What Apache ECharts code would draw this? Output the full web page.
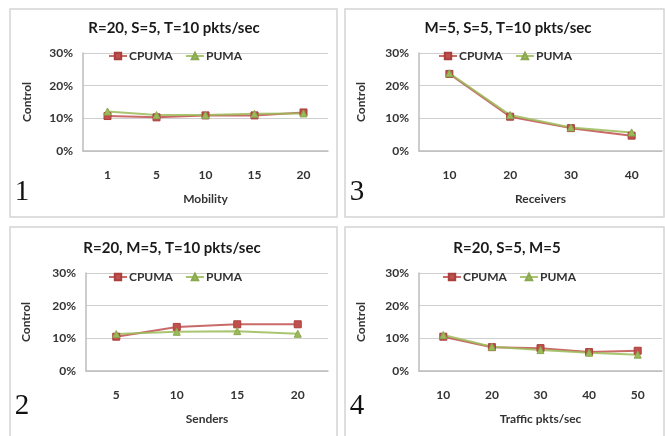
<!DOCTYPE html>
<html>
<head>
<meta charset="utf-8">
<script src="https://cdn.jsdelivr.net/npm/echarts@6/dist/echarts.min.js"></script>
<style>html,body{margin:0;padding:0;background:#fff}#c{width:665px;height:436px}</style>
</head>
<body>
<div id="c"></div>
<script>
// ---- data ----
const seriesNames = ['CPUMA', 'PUMA'];
const yTicks = [0, 10, 20, 30];

const mobility = ['1', '5', '10', '15', '20'];
const cpumaMobility = [10.7, 10.3, 10.9, 10.9, 11.8];
const pumaMobility = [12.1, 11.0, 11.0, 11.4, 11.5];

const receivers = ['10', '20', '30', '40'];
const cpumaReceivers = [23.6, 10.5, 7.0, 4.7];
const pumaReceivers = [23.8, 11.0, 7.2, 5.7];

const senders = ['5', '10', '15', '20'];
const cpumaSenders = [10.5, 13.5, 14.3, 14.3];
const pumaSenders = [11.3, 12.0, 12.2, 11.4];

const traffic = ['10', '20', '30', '40', '50'];
const cpumaTraffic = [10.5, 7.3, 7.0, 5.8, 6.2];
const pumaTraffic = [11.0, 7.4, 6.4, 5.6, 5.0];

const panels = [
  {title: 'R=20, S=5, T=10 pkts/sec', xName: 'Mobility', cats: mobility, a: cpumaMobility, b: pumaMobility, num: '1'},
  {title: 'M=5, S=5, T=10 pkts/sec', xName: 'Receivers', cats: receivers, a: cpumaReceivers, b: pumaReceivers, num: '3'},
  {title: 'R=20, M=5, T=10 pkts/sec', xName: 'Senders', cats: senders, a: cpumaSenders, b: pumaSenders, num: '2'},
  {title: 'R=20, S=5, M=5', xName: 'Traffic pkts/sec', cats: traffic, a: cpumaTraffic, b: pumaTraffic, num: '4'}
];

// ---- layout ----
const boxes = [
  {x: 10, y: 9, w: 327, h: 208},
  {x: 345, y: 9, w: 319, h: 208},
  {x: 10, y: 227, w: 327, h: 212},
  {x: 345, y: 227, w: 319, h: 212}
];
const grids = [
  {left: 83, top: 53, width: 245, height: 98},
  {left: 419, top: 53, width: 243, height: 98},
  {left: 86, top: 273, width: 242, height: 98},
  {left: 419, top: 273, width: 243, height: 98}
];
const titlePos = [{x: 174, y: 28}, {x: 508, y: 28}, {x: 172, y: 248}, {x: 507, y: 248}];
const legendPos = [{x: 108, y: 56}, {x: 438, y: 56}, {x: 108, y: 277}, {x: 442, y: 277}];
const yNameGap = [50, 52, 54, 52];
const numPos = [{x: 22, y: 192}, {x: 357, y: 192}, {x: 22, y: 406}, {x: 357, y: 406}];

const RED = '#C0504D', GREEN = '#9BBB59';
const FONT = 'Lato, "Open Sans", sans-serif';

const option = {
  backgroundColor: '#fff',
  animation: false,
  title: [], legend: [], grid: [], xAxis: [], yAxis: [], series: [], graphic: []
};

boxes.forEach(b => {
  option.graphic.push({type: 'rect', shape: {x: b.x, y: b.y, width: b.w, height: b.h},
    style: {fill: 'none', stroke: '#d4d4d4', lineWidth: 1.5}, z: -1});
});

panels.forEach((p, i) => {
  option.graphic.push({type: 'text', x: numPos[i].x, y: numPos[i].y,
    style: {text: p.num, font: '29px "Liberation Serif", "DejaVu Serif", serif', fill: '#111',
      textAlign: 'center', textVerticalAlign: 'middle'}});
  option.title.push({text: p.title, left: titlePos[i].x, top: titlePos[i].y, textAlign: 'center',
    textVerticalAlign: 'middle', padding: 0,
    textStyle: {fontFamily: FONT, fontSize: 15, fontWeight: 'bold', color: '#1a1a1a'}});
  option.legend.push({data: seriesNames, left: legendPos[i].x, top: legendPos[i].y - 6, padding: 0,
    itemWidth: 18, itemHeight: 8, itemGap: 12,
    textStyle: {fontFamily: FONT, fontSize: 12, fontWeight: 'bold', color: '#333', padding: [0, 0, 0, -3]}});
  option.grid.push(Object.assign({containLabel: false}, grids[i]));
  option.xAxis.push({type: 'category', gridIndex: i, data: p.cats, boundaryGap: true,
    name: p.xName, nameLocation: 'middle', nameGap: 42,
    nameTextStyle: {fontFamily: FONT, fontSize: 12, fontWeight: 'bold', color: '#333'},
    axisLine: {lineStyle: {color: '#bdbdbd', width: 1.5}},
    axisTick: {show: false},
    axisLabel: {fontFamily: FONT, fontSize: 12, fontWeight: 'bold', color: '#333', margin: 18}});
  option.yAxis.push({type: 'value', gridIndex: i, min: yTicks[0], max: yTicks[yTicks.length - 1], interval: 10,
    name: 'Control', nameLocation: 'middle', nameGap: yNameGap[i], nameRotate: 90,
    nameTextStyle: {fontFamily: FONT, fontSize: 12, fontWeight: 'bold', color: '#333'},
    axisLine: {show: true, lineStyle: {color: '#bdbdbd', width: 1.5}},
    axisTick: {show: false},
    splitLine: {lineStyle: {color: '#cfcfcf', width: 1.2}},
    axisLabel: {formatter: '{value}%', fontFamily: FONT, fontSize: 12, fontWeight: 'bold', color: '#333', margin: 10}});
  option.series.push({name: 'CPUMA', type: 'line', xAxisIndex: i, yAxisIndex: i, data: p.a,
    symbol: 'rect', symbolSize: 7, color: RED,
    lineStyle: {color: RED, width: 2, opacity: 0.85},
    itemStyle: {color: RED, borderColor: '#a8403d', borderWidth: 1}});
  option.series.push({name: 'PUMA', type: 'line', xAxisIndex: i, yAxisIndex: i, data: p.b,
    symbol: 'triangle', symbolSize: 7, color: GREEN,
    lineStyle: {color: GREEN, width: 2, opacity: 0.85},
    itemStyle: {color: GREEN, borderColor: '#8aa84e', borderWidth: 1}});
});

const chart = echarts.init(document.getElementById('c'), null, {renderer: 'canvas'});
chart.setOption(option);
</script>
</body>
</html>
